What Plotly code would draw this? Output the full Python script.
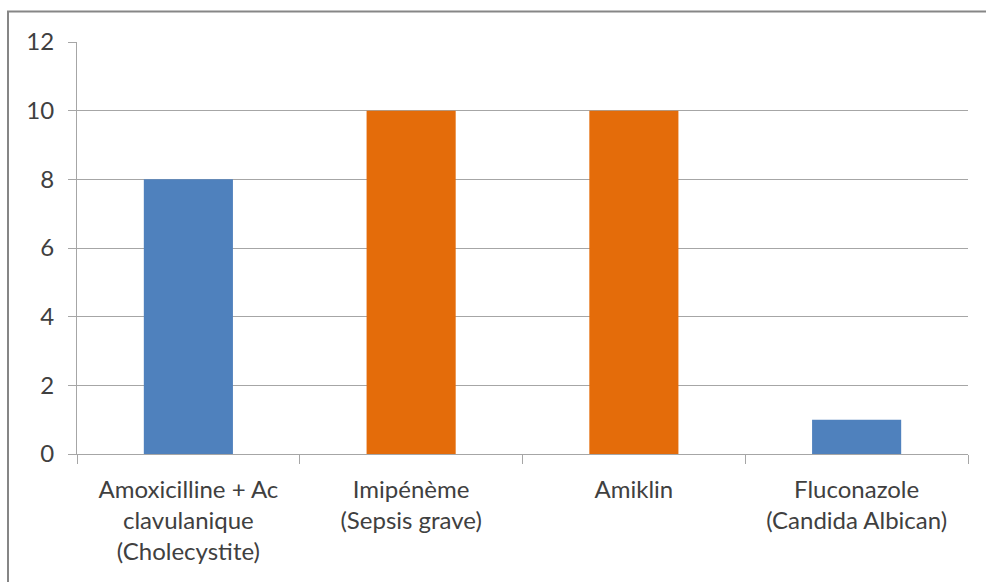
import plotly.graph_objects as go

# Antibiotic / antifungal treatments and their counts
categories = [
    "Amoxicilline + Ac<br>clavulanique<br>(Cholecystite)",
    "Imipénème<br>(Sepsis grave)",
    "Amiklin",
    "Fluconazole<br>(Candida Albican)",
]
values = [8, 10, 10, 1]
bar_colors = ["#4F81BD", "#E46C0A", "#E46C0A", "#4F81BD"]
y_ticks = [0, 2, 4, 6, 8, 10, 12]

W, H = 986, 582
L, R, T, B = 77, 18, 41.5, 127.5
pw, ph = W - L - R, H - T - B

fig = go.Figure(
    go.Bar(
        x=categories,
        y=values,
        marker=dict(color=bar_colors, line=dict(width=0)),
        width=0.4,
        hoverinfo="x+y",
    )
)

font = dict(family="Lato, Carlito, 'Liberation Sans', sans-serif", size=24, color="#404040")

fig.update_layout(
    width=W,
    height=H,
    margin=dict(l=L, r=R, t=T, b=B, pad=0),
    paper_bgcolor="white",
    plot_bgcolor="white",
    showlegend=False,
    font=font,
    xaxis=dict(
        type="category",
        tickson="boundaries",
        ticks="outside",
        ticklen=9,
        tickwidth=1,
        tickcolor="#A6A6A6",
        showline=True,
        linecolor="#A6A6A6",
        linewidth=1,
        showgrid=False,
        tickfont=font,
        ticklabelstandoff=14,
        fixedrange=True,
    ),
    yaxis=dict(
        range=[0, 12],
        tickvals=y_ticks,
        ticks="outside",
        ticklen=8,
        tickwidth=1,
        tickcolor="#A6A6A6",
        showline=True,
        linecolor="#A6A6A6",
        linewidth=1,
        showgrid=True,
        gridcolor="#A6A6A6",
        gridwidth=1,
        zeroline=False,
        tickfont=font,
        ticklabelstandoff=9,
        fixedrange=True,
    ),
)

# Outer chart frame
fig.add_shape(
    type="rect",
    xref="paper",
    yref="paper",
    x0=(8 - L) / pw,
    x1=(W + 2 - L) / pw,
    y0=-(B + 5) / ph,
    y1=(H - B - 11) / ph,
    line=dict(color="#868686", width=2),
    fillcolor="rgba(0,0,0,0)",
    layer="below",
)

fig.write_html("out.html")
